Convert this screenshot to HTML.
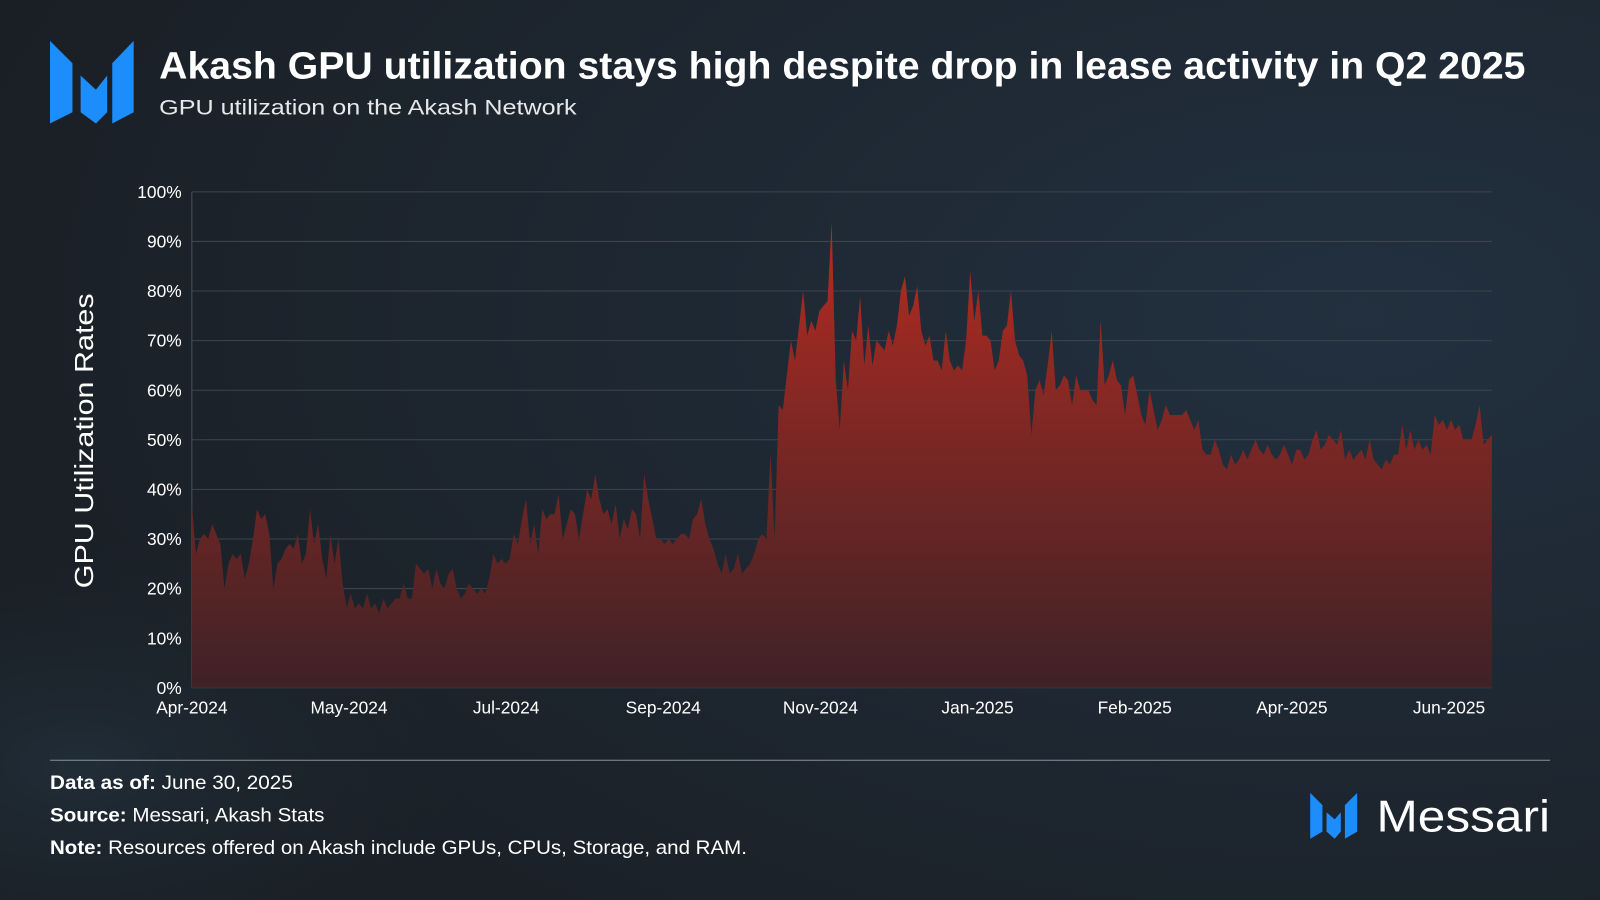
<!DOCTYPE html>
<html><head><meta charset="utf-8"><style>
html,body{margin:0;padding:0;width:1600px;height:900px;overflow:hidden;background:#1b2127}
svg{display:block}
text{font-family:"Liberation Sans",sans-serif}
</style></head><body>
<svg id="chart" width="1600" height="900" viewBox="0 0 1568 882" xmlns="http://www.w3.org/2000/svg">
<defs>
<radialGradient id="bg" cx="0.85" cy="0.35" r="0.9">
<stop offset="0" stop-color="#22303f"/><stop offset="1" stop-color="#1a1f25"/>
</radialGradient>
<radialGradient id="bg2" cx="0.05" cy="0.85" r="0.3">
<stop offset="0" stop-color="#22303c" stop-opacity="0.8"/><stop offset="1" stop-color="#1a1f25" stop-opacity="0"/>
</radialGradient>
<linearGradient id="area" x1="0" y1="0" x2="0" y2="1" gradientUnits="objectBoundingBox">
<stop offset="0" stop-color="#b82b20"/><stop offset="0.45" stop-color="#7d2724"/><stop offset="1" stop-color="#3e2226"/>
</linearGradient>
</defs>
<rect width="1568" height="882" fill="url(#bg)"/>
<rect width="1568" height="882" fill="url(#bg2)"/>
<g fill="#1d8dfb">
<polygon points="49,40 71,62 71,110 49,121"/>
<polygon points="79,74 94,88 105,74 105,110 94,121 79,110"/>
<polygon points="110,62 131,40 131,110 110,121"/>
</g>
<text x="156" y="77" font-size="37" font-weight="bold" fill="#ffffff" textLength="1339" lengthAdjust="spacingAndGlyphs">Akash GPU utilization stays high despite drop in lease activity in Q2 2025</text>
<text x="156" y="112" font-size="21" fill="#e6e8ea" textLength="409" lengthAdjust="spacingAndGlyphs">GPU utilization on the Akash Network</text>
<g id="grid"></g>
<g id="plot"></g>
<g id="yticks"></g>
<g id="xticks"></g>
<text transform="translate(91,432) rotate(-90)" text-anchor="middle" font-size="25" fill="#ffffff" textLength="289" lengthAdjust="spacingAndGlyphs">GPU Utilization Rates</text>
<line x1="49" y1="745" x2="1519" y2="745" stroke="#8a9097" stroke-width="1"/>
<text x="49" y="773" font-size="19" fill="#ffffff" textLength="238" lengthAdjust="spacingAndGlyphs"><tspan font-weight="bold">Data as of:</tspan> June 30, 2025</text>
<text x="49" y="805" font-size="19" fill="#ffffff" textLength="269" lengthAdjust="spacingAndGlyphs"><tspan font-weight="bold">Source:</tspan> Messari, Akash Stats</text>
<text x="49" y="837" font-size="19" fill="#ffffff" textLength="683" lengthAdjust="spacingAndGlyphs"><tspan font-weight="bold">Note:</tspan> Resources offered on Akash include GPUs, CPUs, Storage, and RAM.</text>
<g>
<g fill="#1d8dfb">
<polygon points="1284,777 1296,789 1296,815 1284,822"/>
<polygon points="1300,796 1308,803 1314,796 1314,815 1308,822 1300,815"/>
<polygon points="1318,789 1330,777 1330,815 1318,822"/>
</g>
<text x="1349" y="815" font-size="44" fill="#ffffff" textLength="170" lengthAdjust="spacingAndGlyphs">Messari</text>
</g>
</svg>
<script>
const values = [37,27,30,31,30,33,31,29,20,25,27,26,27,22,25,30,36,34,35,31,20,25,26,28,29,28,31,25,27,36,29,33,26,22,31,25,30,21,16,19,16,17,16,19,16,17,15,18,16,17,18,18,21,18,18,25,24,23,24,20,24,21,20,23,24,20,18,19,21,20,19,20,19,22,27,25,26,25,26,31,29,34,38,29,33,27,36,34,35,35,39,30,33,36,35,30,35,40,38,43,38,35,36,33,37,30,34,32,36,35,30,43,38,34,30,30,29,30,29,30,31,31,30,34,35,38,33,30,28,25,23,27,23,24,27,23,24,25,27,30,31,30,47,30,57,56,63,70,66,73,80,71,74,72,76,77,78,94,62,52,66,60,72,70,79,65,73,65,70,69,68,72,69,73,80,83,75,77,81,72,69,71,66,66,64,72,66,64,65,64,70,84,74,80,71,71,70,64,66,72,73,80,70,67,66,63,51,60,62,59,65,72,60,61,63,62,57,63,60,60,60,58,57,74,61,63,66,62,61,55,62,63,59,55,53,60,56,52,54,57,55,55,55,55,56,54,52,54,48,47,47,50,48,45,44,47,45,46,48,46,48,50,48,47,49,47,46,47,49,47,45,48,48,46,47,50,52,48,49,51,50,49,52,46,48,46,47,48,46,50,46,45,44,46,45,47,47,53,48,52,48,50,48,49,47,55,53,54,52,54,52,53,50,50,50,53,57,49,50,51];
const xTickLabels = ["Apr-2024","May-2024","Jul-2024","Sep-2024","Nov-2024","Jan-2025","Feb-2025","Apr-2025","Jun-2025"];
const yTicks = [0,10,20,30,40,50,60,70,80,90,100];
const NS = "http://www.w3.org/2000/svg";
const X0 = 188, X1 = 1462, Y0 = 674, Y1 = 188;
const xs = i => X0 + (X1 - X0) * i / (values.length - 1);
const ys = v => Y0 - (Y0 - Y1) * v / 100;
const grid = document.getElementById('grid');
const yt = document.getElementById('yticks');
yTicks.forEach(t => {
  const l = document.createElementNS(NS, 'line');
  
  
  l.setAttribute('x1', X0); l.setAttribute('x2', X1);
  l.setAttribute('y1', ys(t)); l.setAttribute('y2', ys(t));
  l.setAttribute('stroke', '#3d444c'); l.setAttribute('stroke-width', '1');
  grid.appendChild(l);
  const tx = document.createElementNS(NS, 'text');
  
  
  tx.setAttribute('x', 178); tx.setAttribute('y', ys(t) + 6);
  tx.setAttribute('text-anchor', 'end'); tx.setAttribute('font-size', '17'); tx.setAttribute('fill', '#ffffff');
  tx.textContent = t + '%';
  yt.appendChild(tx);
});
const ax = document.createElementNS(NS, 'line');


ax.setAttribute('x1', X0); ax.setAttribute('x2', X0); ax.setAttribute('y1', Y1); ax.setAttribute('y2', Y0);
ax.setAttribute('stroke', '#4a5058');
grid.appendChild(ax);
let d = 'M' + xs(0) + ',' + Y0;
values.forEach((v, i) => { d += ' L' + xs(i).toFixed(2) + ',' + ys(v).toFixed(2); });
d += ' L' + xs(values.length - 1) + ',' + Y0 + ' Z';
const p = document.createElementNS(NS, 'path');


p.setAttribute('d', d); p.setAttribute('fill', 'url(#area)');
document.getElementById('plot').appendChild(p);
const xt = document.getElementById('xticks');
const step = 154;
xTickLabels.forEach((lab, k) => {
  const tx = document.createElementNS(NS, 'text');
  
  
  let x = X0 + k * step;
  tx.setAttribute('x', x); tx.setAttribute('y', 699);
  tx.setAttribute('text-anchor', 'middle'); tx.setAttribute('font-size', '17'); tx.setAttribute('fill', '#ffffff');
  tx.textContent = lab;
  xt.appendChild(tx);
});
</script>
</body></html>
